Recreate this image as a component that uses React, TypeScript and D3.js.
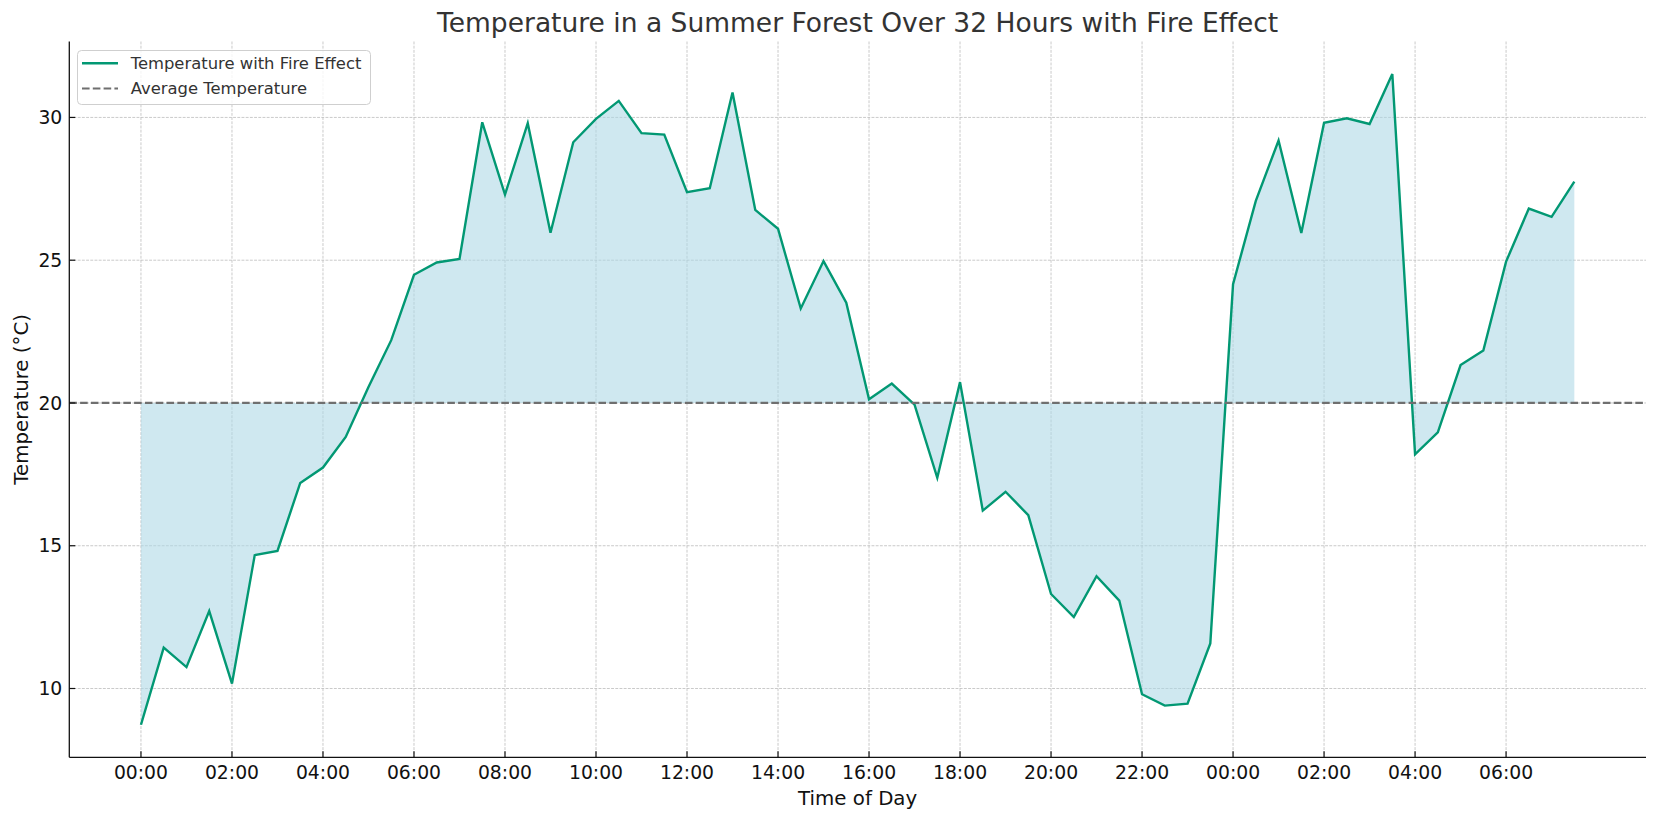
import React from 'react';
import { scaleLinear, line, area, extent } from 'd3';

// half-hourly readings, starting at 00:00 on day one
const temps = [
  8.73, 11.43, 10.75, 12.71, 10.17, 14.67, 14.82, 17.2, 17.74, 18.81,
  20.56, 22.2, 24.49, 24.92, 25.04, 29.83, 27.3, 29.8, 25.96, 29.13,
  29.95, 30.58, 29.45, 29.4, 27.38, 27.52, 30.87, 26.76, 26.1, 23.31,
  24.97, 23.51, 20.13, 20.68, 19.94, 17.38, 20.73, 16.23, 16.89, 16.07,
  13.31, 12.5, 13.93, 13.08, 9.8, 9.4, 9.47, 11.58, 24.16, 27.08,
  29.19, 25.95, 29.81, 29.97, 29.77, 31.52, 18.2, 18.97, 21.33, 21.84,
  24.95, 26.81, 26.52, 27.75,
];
const stepHours = 0.5;
const avgTemp = 20;

const xTickHours = [0, 2, 4, 6, 8, 10, 12, 14, 16, 18, 20, 22, 24, 26, 28, 30];
const xTickLabels = [
  '00:00', '02:00', '04:00', '06:00', '08:00', '10:00', '12:00', '14:00',
  '16:00', '18:00', '20:00', '22:00', '00:00', '02:00', '04:00', '06:00',
];
const yTicks = [10, 15, 20, 25, 30];

const W = 1653;
const H = 820;
const left = 69.3;
const right = 1646;
const top = 41.5;
const bottom = 757.3;
const font = 'DejaVu Sans, sans-serif';

const App = () => {
  const hours = temps.map((_, i) => i * stepHours);

  const [x0, x1] = extent(hours) as [number, number];
  const xPad = (x1 - x0) * 0.05;
  const xScale = scaleLinear().domain([x0 - xPad, x1 + xPad]).range([left, right]);

  const [y0, y1] = extent(temps) as [number, number];
  const yPad = (y1 - y0) * 0.05;
  const yScale = scaleLinear().domain([y0 - yPad, y1 + yPad]).range([bottom, top]);

  const tempLine = line<number>()
    .x((d, i) => xScale(hours[i]))
    .y((d) => yScale(d));

  const fillArea = area<number>()
    .x((d, i) => xScale(hours[i]))
    .y0(yScale(avgTemp))
    .y1((d) => yScale(d));

  const midX = (left + right) / 2;

  return (
    <svg
      width={W}
      height={H}
      style={{ position: 'absolute', left: 0, top: 0, background: '#fff' }}
      fontFamily={font}
    >
      {/* grid */}
      <g stroke='#bdbdbd' strokeWidth={0.8} strokeDasharray='2.9,1.3'>
        {xTickHours.map((h) => (
          <line key={'gx' + h} x1={xScale(h)} x2={xScale(h)} y1={top} y2={bottom} />
        ))}
        {yTicks.map((t) => (
          <line key={'gy' + t} x1={left} x2={right} y1={yScale(t)} y2={yScale(t)} />
        ))}
      </g>

      <path d={fillArea(temps) || ''} fill='#add8e6' fillOpacity={0.58} />
      <path d={tempLine(temps) || ''} fill='none' stroke='#029873' strokeWidth={2.4} />

      <line
        x1={left}
        x2={right}
        y1={yScale(avgTemp)}
        y2={yScale(avgTemp)}
        stroke='#6f6f6f'
        strokeWidth={2.2}
        strokeDasharray='7.6,3.2'
      />

      {/* axes */}
      <line x1={left} x2={left} y1={top} y2={bottom} stroke='#111' strokeWidth={1.3} />
      <line x1={left} x2={right} y1={bottom} y2={bottom} stroke='#111' strokeWidth={1.3} />

      {xTickHours.map((h, i) => (
        <g key={'xt' + i}>
          <line x1={xScale(h)} x2={xScale(h)} y1={bottom} y2={bottom - 6} stroke='#111' strokeWidth={1.2} />
          <text x={xScale(h)} y={779} textAnchor='middle' fontSize={18.8} fill='#111'>
            {xTickLabels[i]}
          </text>
        </g>
      ))}
      {yTicks.map((t) => (
        <g key={'yt' + t}>
          <line x1={left} x2={left + 6} y1={yScale(t)} y2={yScale(t)} stroke='#111' strokeWidth={1.2} />
          <text x={62.3} y={yScale(t)} dy='0.35em' textAnchor='end' fontSize={18.8} fill='#111'>
            {t}
          </text>
        </g>
      ))}

      <text x={midX} y={805} textAnchor='middle' fontSize={19.8} fill='#111'>
        Time of Day
      </text>
      <text
        transform={`translate(27.5, ${(top + bottom) / 2}) rotate(-90)`}
        textAnchor='middle'
        fontSize={19.8}
        fill='#111'
      >
        Temperature (°C)
      </text>

      <text x={midX} y={31.7} textAnchor='middle' fontSize={26.5} fill='#333'>
        Temperature in a Summer Forest Over 32 Hours with Fire Effect
      </text>

      {/* legend */}
      <g>
        <rect x={77.5} y={50.5} width={293} height={54} rx={4} fill='#fff' fillOpacity={0.8} stroke='#cfcfcf' strokeWidth={1} />
        <line x1={82} x2={118} y1={63.3} y2={63.3} stroke='#029873' strokeWidth={2.4} />
        <text x={130.7} y={63.3} dy='0.35em' fontSize={16.4} fill='#333'>
          Temperature with Fire Effect
        </text>
        <line x1={82} x2={118} y1={88.5} y2={88.5} stroke='#6f6f6f' strokeWidth={2.2} strokeDasharray='7.6,3.2' />
        <text x={130.7} y={88.5} dy='0.35em' fontSize={16.4} fill='#333'>
          Average Temperature
        </text>
      </g>
    </svg>
  );
};

export default App;
